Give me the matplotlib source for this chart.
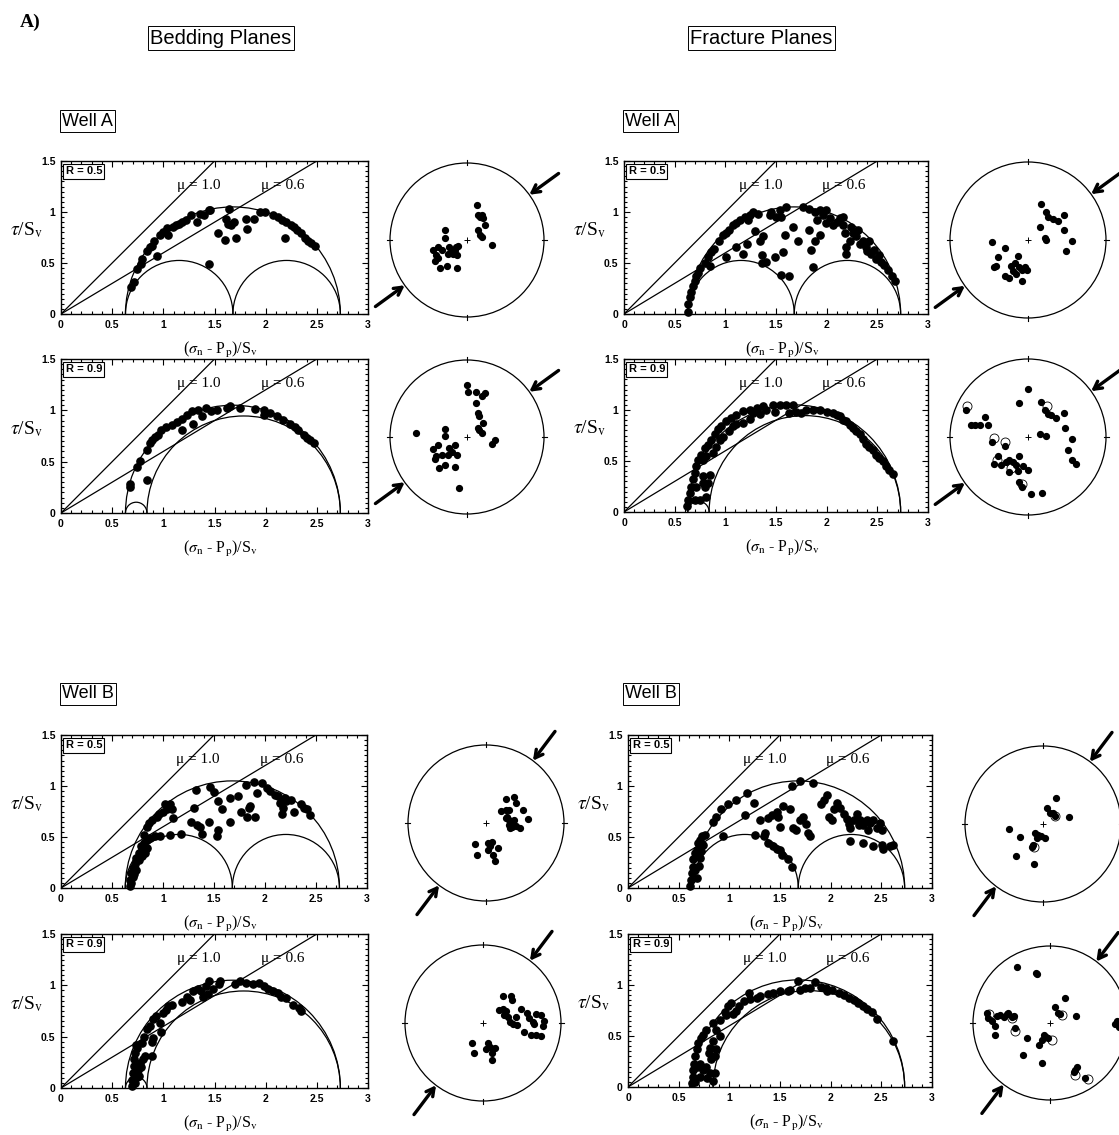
import numpy as np
import matplotlib
matplotlib.use('Agg')
import matplotlib.pyplot as plt
from matplotlib.patches import Arc, Circle

plt.rcParams['mathtext.fontset'] = 'stix'
plt.rcParams['font.family'] = ['Liberation Sans', 'DejaVu Sans']

# ---------------- data ----------------
SIGMA3 = 0.63
SIGMA1 = 2.73
MU_VALUES = [1.0, 0.6]
R_VALUES = [0.5, 0.9]
X_TICKS = [0, 0.5, 1, 1.5, 2, 2.5, 3]
X_TICKLABELS = ['0', '0.5', '1', '1.5', '2', '2.5', '3']
Y_TICKS = [0, 0.5, 1, 1.5]
Y_TICKLABELS = ['0', '0.5', '1', '1.5']
SHMAX_AZ_WELL_A = 54
SHMAX_AZ_WELL_B = 37

# Mohr-diagram points (sigma_n', tau)
A_BED_R05 = [(0.68,0.26),(0.71,0.31),(0.74,0.44),(0.78,0.49),(0.79,0.54),(0.84,0.62),(0.87,0.66),
             (0.89,0.67),(0.91,0.72),(0.94,0.57),(0.97,0.77),(1.0,0.80),(1.04,0.84),(1.05,0.77),
             (1.09,0.85),(1.12,0.87),(1.15,0.88),(1.18,0.90),(1.22,0.92),(1.27,0.97),(1.33,0.90),
             (1.36,0.98),(1.40,0.97),(1.45,1.02),(1.46,1.02),(1.45,0.49),(1.64,1.03),(1.53,0.79),
             (1.61,0.93),(1.63,0.88),(1.66,0.87),(1.69,0.90),(1.60,0.73),(1.71,0.75),(1.81,0.93),
             (1.82,0.83),(1.89,0.93),(1.94,1.00),(1.99,1.00),(2.07,0.97),(2.12,0.95),(2.16,0.92),
             (2.20,0.90),(2.19,0.75),(2.25,0.87),(2.28,0.85),(2.31,0.82),(2.35,0.79),(2.38,0.75),
             (2.41,0.72),(2.44,0.70),(2.48,0.67)]
A_BED_R09 = [(0.67,0.25),(0.67,0.28),(0.74,0.45),(0.77,0.51),(0.84,0.61),(0.87,0.68),(0.89,0.71),
             (0.92,0.74),(0.95,0.76),(0.84,0.32),(0.98,0.81),(1.03,0.84),(1.08,0.86),(1.13,0.89),
             (1.18,0.92),(1.18,0.81),(1.23,0.95),(1.28,0.99),(1.29,0.87),(1.34,1.00),(1.38,0.94),
             (1.42,1.02),(1.47,0.99),(1.52,1.00),(1.62,1.02),(1.65,1.04),(1.75,1.02),(1.90,1.01),
             (1.98,1.00),(1.98,0.95),(2.04,0.97),(2.11,0.94),(2.17,0.91),(2.24,0.87),(2.29,0.84),
             (2.32,0.81),(2.37,0.76),(2.40,0.73),(2.43,0.71),(2.47,0.68)]
A_FRAC_R05 = [(0.63,0.02),(0.63,0.10),(0.65,0.17),(0.66,0.22),(0.68,0.27),(0.70,0.32),(0.71,0.37),
              (0.73,0.40),(0.75,0.45),(0.80,0.50),(0.83,0.56),(0.86,0.61),(0.89,0.64),(0.85,0.47),
              (0.94,0.72),(0.98,0.77),(1.01,0.79),(1.01,0.56),(1.04,0.82),(1.08,0.87),(1.11,0.89),
              (1.14,0.92),(1.11,0.66),(1.17,0.59),(1.19,0.95),(1.22,0.92),(1.24,0.97),(1.27,1.00),
              (1.32,0.98),(1.29,0.81),(1.21,0.69),(1.34,0.72),(1.37,0.76),(1.36,0.58),(1.40,0.51),
              (1.36,0.50),(1.45,1.00),(1.44,0.97),(1.50,0.95),(1.49,0.56),(1.54,1.02),(1.55,0.95),
              (1.57,0.61),(1.59,0.77),(1.60,1.05),(1.67,0.85),(1.55,0.38),(1.63,0.37),(1.72,0.72),
              (1.77,1.05),(1.83,1.03),(1.83,0.82),(1.85,0.63),(1.87,0.46),(1.88,1.00),(1.90,0.92),
              (1.93,1.02),(1.93,0.77),(1.96,0.97),(1.99,0.89),(1.99,1.02),(2.03,0.94),(2.06,0.87),
              (1.88,0.72),(2.13,0.94),(2.16,0.87),(2.18,0.79),(2.19,0.66),(2.19,0.59),(2.23,0.72),
              (2.26,0.79),(2.29,0.76),(2.31,0.82),(2.33,0.69),(2.36,0.72),(2.39,0.66),(2.42,0.72),
              (2.44,0.59),(2.47,0.63),(2.49,0.54),(2.52,0.58),(2.54,0.51),(2.57,0.48),(2.61,0.43),
              (2.64,0.37),(2.67,0.32),(2.16,0.95),(2.10,0.90),(2.24,0.85),(2.40,0.62)]
A_FRAC_R09 = [(0.62,0.06),(0.63,0.12),(0.65,0.19),(0.66,0.25),(0.68,0.32),(0.70,0.38),(0.71,0.45),
              (0.73,0.51),(0.76,0.56),(0.80,0.63),(0.83,0.66),(0.86,0.71),(0.90,0.76),(0.93,0.81),
              (0.96,0.84),(1.01,0.89),(1.06,0.92),(1.11,0.95),(1.17,0.99),(1.24,1.00),(1.31,1.02),
              (1.37,1.04),(1.47,1.05),(1.54,1.05),(1.60,1.05),(1.67,1.05),
              (0.70,0.12),(0.71,0.25),(0.78,0.28),(0.83,0.28),(0.85,0.36),(0.78,0.51),(0.81,0.55),
              (0.88,0.58),(0.91,0.64),(0.95,0.71),(0.98,0.74),(1.04,0.79),(1.08,0.84),(1.11,0.86),
              (1.17,0.87),(1.24,0.91),(1.27,0.97),(1.34,0.96),(1.40,1.00),(1.49,0.98),(1.63,0.97),
              (1.70,0.98),(1.75,0.97),(1.80,1.00),(0.78,0.35),(0.80,0.25),(0.81,0.15),(0.75,0.12),
              (1.87,1.00),(1.93,1.00),(2.00,0.98),(2.06,0.97),(2.10,0.95),(2.13,0.94),(2.16,0.90),
              (2.19,0.89),(2.23,0.85),(2.26,0.82),(2.29,0.79),(2.33,0.76),(2.36,0.72),(2.39,0.67),
              (2.42,0.64),(2.46,0.61),(2.49,0.56),(2.52,0.53),(2.56,0.50),(2.59,0.45),(2.62,0.41),
              (2.65,0.37)]
B_BED_R05 = [(0.68,0.02),(0.68,0.08),(0.69,0.15),(0.71,0.20),(0.73,0.24),(0.74,0.29),(0.76,0.34),
             (0.79,0.37),(0.78,0.41),(0.81,0.44),(0.84,0.47),(0.87,0.49),(0.92,0.51),(0.97,0.51),
             (1.07,0.52),(1.18,0.53),(0.81,0.52),(0.84,0.60),(0.86,0.64),(0.89,0.67),(0.94,0.70),
             (0.96,0.73),(1.00,0.75),(1.04,0.77),(1.02,0.82),(1.07,0.82),(1.05,0.78),(1.09,0.77),
             (1.10,0.69),(0.71,0.11),(0.74,0.18),(0.69,0.05),(0.82,0.34),(0.84,0.39),(0.76,0.27),
             (0.72,0.14),(0.79,0.31),
             (1.32,0.96),(1.46,0.99),(1.50,0.94),(1.54,0.85),(1.58,0.77),(1.66,0.88),(1.74,0.90),
             (1.76,0.75),(1.84,0.78),(1.85,0.80),(1.82,0.70),(1.90,0.70),(1.92,0.93),(1.97,1.03),
             (2.02,0.98),(2.05,0.95),(2.10,0.91),(2.13,0.90),(2.15,0.83),(2.17,0.86),(2.18,0.78),
             (2.20,0.88),(2.21,0.85),(2.17,0.73),(2.25,0.86),(2.28,0.75),(2.35,0.82),(2.38,0.78),
             (2.41,0.77),(2.44,0.72),(1.81,1.01),(1.89,1.04),(1.30,0.78),(1.27,0.65),(1.36,0.60),
             (1.33,0.62),(1.45,0.65),(1.54,0.57),(1.53,0.51),(1.38,0.53),(1.66,0.65)]
B_BED_R09 = [(0.69,0.02),(0.69,0.08),(0.70,0.15),(0.71,0.21),(0.71,0.28),(0.72,0.34),(0.74,0.39),
             (0.75,0.18),(0.77,0.24),(0.74,0.11),(0.79,0.44),(0.81,0.50),(0.84,0.57),(0.82,0.31),
             (0.89,0.45),(0.90,0.49),(0.87,0.60),(0.90,0.67),(0.93,0.70),(0.97,0.63),(0.98,0.55),
             (1.00,0.73),(1.03,0.76),(1.05,0.80),(1.08,0.81),(1.18,0.84),(1.23,0.89),(1.26,0.86),
             (1.29,0.94),(1.34,0.96),(1.37,0.94),(1.39,0.89),(1.42,0.99),(1.44,0.92),(1.49,0.96),
             (1.54,1.01),(1.55,1.04),(1.45,1.04),(1.70,1.01),(1.75,1.04),(1.81,1.02),(1.88,1.01),
             (1.93,1.02),(1.98,0.99),(2.02,0.96),(2.07,0.94),(2.12,0.93),(2.15,0.89),(2.20,0.88),
             (2.27,0.81),(2.33,0.78),(2.35,0.75),(0.89,0.31),(0.72,0.05),(0.76,0.12),(0.73,0.42),
             (0.78,0.20),(0.80,0.28)]
B_FRAC_R05 = [(0.61,0.02),(0.62,0.08),(0.63,0.15),(0.64,0.21),(0.64,0.28),(0.66,0.34),(0.68,0.37),
              (0.69,0.44),(0.71,0.47),(0.73,0.51),(0.76,0.52),(0.74,0.42),(0.71,0.29),(0.66,0.18),
              (0.68,0.10),(0.70,0.22),(0.72,0.36),
              (0.84,0.65),(0.87,0.70),(0.92,0.77),(0.99,0.82),(1.07,0.86),(1.17,0.93),(0.94,0.51),
              (1.15,0.72),(1.24,0.83),(1.25,0.52),(1.30,0.67),(1.34,0.51),(1.35,0.54),(1.38,0.44),
              (1.43,0.41),(1.47,0.38),(1.50,0.37),(1.52,0.32),(1.58,0.28),(1.62,0.21),(1.38,0.69),
              (1.42,0.72),(1.47,0.75),(1.48,0.70),(1.50,0.60),(1.53,0.80),(1.60,0.77),(1.63,0.59),
              (1.66,0.57),(1.70,0.67),(1.73,0.70),(1.76,0.63),(1.78,0.54),(1.80,0.51),(1.62,1.00),
              (1.70,1.05),(1.83,1.03),(1.90,0.82),(1.93,0.86),(1.96,0.91),(1.98,0.70),(2.01,0.67),
              (2.03,0.77),(2.06,0.83),(2.09,0.78),(2.13,0.73),(2.16,0.68),(2.18,0.63),(2.19,0.59),
              (2.23,0.67),(2.26,0.73),(2.28,0.62),(2.29,0.67),(2.32,0.62),(2.36,0.67),(2.37,0.57),
              (2.39,0.64),(2.42,0.67),(2.46,0.59),(2.49,0.64),(2.51,0.57),(2.19,0.46),(2.32,0.44),
              (2.42,0.41),(2.51,0.42),(2.52,0.38),(2.59,0.41),(2.62,0.42)]
B_FRAC_R09 = [(0.63,0.04),(0.64,0.10),(0.64,0.17),(0.65,0.23),(0.66,0.30),(0.68,0.37),(0.69,0.43),
              (0.72,0.48),(0.74,0.51),(0.77,0.56),(0.71,0.10),(0.74,0.17),(0.71,0.23),(0.77,0.20),
              (0.81,0.14),(0.84,0.06),(0.86,0.14),(0.82,0.27),(0.86,0.30),(0.87,0.37),(0.81,0.38),
              (0.84,0.45),(0.91,0.50),(0.87,0.56),(0.84,0.63),(0.91,0.66),(0.96,0.74),(0.99,0.79),
              (1.02,0.82),(0.97,0.71),(1.04,0.72),(1.07,0.75),(1.10,0.79),(1.14,0.84),(1.19,0.92),
              (1.20,0.86),(1.27,0.87),(1.30,0.89),(1.38,0.91),(1.43,0.92),(1.50,0.94),(1.58,0.94),
              (1.60,0.95),(1.68,1.04),(1.70,0.95),(1.75,0.97),(1.80,0.97),(1.85,1.03),(1.90,0.98),
              (1.95,0.97),(1.96,0.94),(2.01,0.95),(2.08,0.92),(2.13,0.90),(2.18,0.87),(2.23,0.85),
              (2.27,0.82),(2.32,0.79),(2.36,0.76),(2.41,0.74),(2.46,0.67),(2.62,0.45),(0.66,0.05),
              (0.68,0.20),(0.78,0.09),(0.80,0.33)]

# Stereonet poles (normalised to the primitive circle)
A_BED_R05_POLES = [(0.13,0.46),(0.14,0.32),(0.17,0.30),(0.19,0.33),(0.21,0.28),(0.23,0.19),(0.14,0.13),
                   (0.17,0.06),(0.19,0.04),(0.33,-0.06),(-0.29,0.13),(-0.28,0.03),(-0.44,-0.13),
                   (-0.38,-0.09),(-0.33,-0.13),(-0.40,-0.20),(-0.42,-0.27),(-0.38,-0.24),(-0.35,-0.36),
                   (-0.26,-0.34),(-0.13,-0.36),(-0.23,-0.09),(-0.20,-0.13),(-0.25,-0.18),(-0.18,-0.18),
                   (-0.14,-0.09),(-0.13,-0.20),(-0.15,-0.13),(-0.12,-0.08)]
A_BED_R09_POLES = [(0.00,0.68),(0.01,0.59),(0.12,0.59),(0.23,0.57),(0.20,0.53),(0.12,0.44),(0.14,0.31),
                   (0.16,0.27),(0.21,0.18),(0.16,0.09),(0.19,0.05),(0.14,0.12),(0.33,-0.09),(0.37,-0.04),
                   (-0.66,0.05),(-0.29,0.10),(-0.29,0.01),(-0.44,-0.16),(-0.38,-0.11),(-0.33,-0.23),
                   (-0.42,-0.29),(-0.40,-0.25),(-0.36,-0.40),(-0.28,-0.37),(-0.15,-0.39),(-0.23,-0.14),
                   (-0.20,-0.19),(-0.25,-0.23),(-0.16,-0.10),(-0.13,-0.23),(-0.10,-0.66)]
A_FRAC_R05_POLES = [(0.17,0.46),(0.23,0.36),(0.25,0.30),(0.32,0.27),(0.38,0.25),(0.46,0.32),(0.15,0.17),
                    (0.46,0.13),(0.22,0.02),(0.23,0.00),(0.56,-0.01),(0.49,-0.14),(-0.46,-0.03),
                    (-0.30,-0.10),(-0.39,-0.22),(-0.43,-0.34),(-0.41,-0.33),(-0.30,-0.46),(-0.24,-0.49),
                    (-0.22,-0.33),(-0.17,-0.30),(-0.13,-0.21),(-0.12,-0.34),(-0.08,-0.38),(-0.04,-0.34),
                    (-0.01,-0.38),(-0.08,-0.53),(-0.19,-0.40),(-0.15,-0.44)]
A_FRAC_R09_POLES = [(0.00,0.62),(-0.11,0.44),(0.17,0.45),(0.22,0.34),(0.25,0.30),(0.30,0.28),(0.36,0.25),
                    (0.46,0.31),(0.47,0.12),(0.15,0.04),(0.23,0.01),(0.57,-0.03),(0.51,-0.17),(0.57,-0.30),
                    (0.62,-0.34),(-0.80,0.35),(-0.73,0.15),(-0.68,0.15),(-0.62,0.16),(-0.55,0.26),
                    (-0.51,0.16),(-0.46,-0.06),(-0.30,-0.11),(-0.38,-0.24),(-0.43,-0.34),(-0.35,-0.36),
                    (-0.28,-0.32),(-0.24,-0.30),(-0.19,-0.32),(-0.15,-0.36),(-0.11,-0.24),(-0.13,-0.43),
                    (-0.06,-0.37),(0.00,-0.42),(-0.24,-0.45),(-0.11,-0.58),(-0.08,-0.64),(0.04,-0.73),
                    (0.18,-0.72)]
A_FRAC_R09_OPEN = [(-0.78,0.40),(-0.44,-0.01),(-0.30,-0.07),(-0.40,-0.30),(-0.08,-0.60),(0.24,0.40),
                   (-0.22,-0.40)]
B_BED_R05_POLES = [(0.26,0.31),(0.36,0.33),(0.39,0.26),(0.19,0.16),(0.25,0.17),(0.29,0.17),(0.48,0.17),
                   (0.54,0.05),(0.27,0.08),(0.29,0.04),(0.31,0.00),(0.36,0.04),(0.33,-0.05),(0.38,-0.04),
                   (0.44,-0.07),(0.31,-0.07),(0.26,0.06),(0.34,0.02),(0.30,-0.03),(-0.14,-0.27),
                   (-0.12,-0.41),(0.03,-0.25),(0.08,-0.24),(0.05,-0.30),(0.15,-0.32),(0.09,-0.41),
                   (0.12,-0.49),(0.02,-0.34)]
B_BED_R09_POLES = [(0.26,0.34),(0.36,0.35),(0.37,0.29),(0.20,0.17),(0.25,0.18),(0.29,0.16),(0.27,0.10),
                   (0.32,0.08),(0.34,0.01),(0.38,-0.01),(0.44,-0.03),(0.42,0.08),(0.49,0.18),(0.57,0.13),
                   (0.59,0.06),(0.64,0.01),(0.68,0.12),(0.74,0.10),(0.78,0.03),(0.77,-0.04),(0.53,-0.12),
                   (0.62,-0.15),(0.68,-0.16),(0.74,-0.17),(0.66,-0.01),(-0.14,-0.26),(-0.12,-0.39),
                   (0.07,-0.26),(0.09,-0.31),(0.04,-0.33),(0.15,-0.32),(0.11,-0.39),(0.12,-0.48)]
B_FRAC_R05_POLES = [(0.17,0.33),(0.05,0.21),(0.09,0.14),(0.13,0.14),(0.16,0.10),(0.33,0.09),(-0.44,-0.07),
                    (-0.30,-0.17),(-0.10,-0.12),(-0.07,-0.14),(-0.03,-0.16),(0.02,-0.18),(-0.08,-0.18),
                    (-0.13,-0.27),(-0.14,-0.29),(-0.34,-0.41),(-0.11,-0.51)]
B_FRAC_R05_OPEN = [(0.16,0.10),(-0.12,-0.30)]
B_FRAC_R09_POLES = [(-0.43,0.73),(-0.18,0.65),(-0.17,0.63),(0.19,0.33),(0.06,0.21),(0.10,0.13),(0.13,0.12),
                    (0.34,0.09),(-0.82,0.13),(-0.80,0.06),(-0.75,0.02),(-0.72,-0.04),(-0.69,0.09),
                    (-0.65,0.10),(-0.60,0.08),(-0.56,0.12),(-0.54,0.13),(-0.49,0.08),(-0.47,0.09),
                    (-0.71,-0.16),(-0.46,-0.06),(-0.30,-0.20),(-0.08,-0.16),(-0.05,-0.18),(-0.03,-0.19),
                    (-0.10,-0.22),(-0.14,-0.29),(-0.35,-0.42),(-0.11,-0.52),(0.35,-0.57),(0.33,-0.61),
                    (0.31,-0.63),(0.45,-0.72),(0.87,0.02),(0.89,-0.05),(0.85,-0.01)]
B_FRAC_R09_OPEN = [(-0.79,0.12),(-0.46,-0.11),(0.16,0.10),(0.02,-0.22),(0.33,-0.68),(0.49,-0.73),
                   (-0.49,0.07)]

# ---------------- drawing ----------------
W, H = 1119, 1135
fig = plt.figure(figsize=(W / 100, H / 100), dpi=100)
fig.patch.set_facecolor('white')

XLABEL = r'($\sigma_\mathrm{n}$ - P$_\mathrm{p}$)/S$_\mathrm{v}$'
YLABEL = r'$\tau$/S$_\mathrm{v}$'
SERIF = ['Liberation Serif', 'DejaVu Serif']


def rect_px(x0, y0, x1, y1):
    return [x0 / W, 1 - y1 / H, (x1 - x0) / W, (y1 - y0) / H]


def mohr_panel(box, R, pts):
    ax = fig.add_axes(rect_px(*box))
    ax.set_xlim(0, 3)
    ax.set_ylim(0, 1.5)
    s3, s1 = SIGMA3, SIGMA1
    s2 = s1 - R * (s1 - s3)
    for a, b in [(s3, s1), (s3, s2), (s2, s1)]:
        ax.add_patch(Arc(((a + b) / 2, 0), b - a, b - a, theta1=0, theta2=180,
                         lw=0.9, color='k'))
    for mu in MU_VALUES:
        ax.plot([0, 1.5 / mu], [0, 1.5], color='k', lw=0.9)
    sn = [p[0] for p in pts]
    tau = [p[1] for p in pts]
    ax.plot(sn, tau, 'o', ms=5.2, color='k', mec='k', clip_on=False)
    ax.set_xticks(X_TICKS)
    ax.set_xticklabels(X_TICKLABELS)
    ax.set_yticks(Y_TICKS)
    ax.set_yticklabels(Y_TICKLABELS)
    ax.set_xticks(np.arange(0, 3.01, 0.1), minor=True)
    ax.set_yticks(np.arange(0, 1.51, 0.05), minor=True)
    ax.tick_params(which='both', direction='in', top=True, right=True, width=0.8,
                   labelsize=7.5, pad=4)
    ax.tick_params(which='major', length=4)
    ax.tick_params(which='minor', length=2)
    for lab in ax.get_xticklabels() + ax.get_yticklabels():
        lab.set_fontweight('bold')
    for sp in ax.spines.values():
        sp.set_linewidth(1.0)
    ax.text(0.015, 0.965, 'R = %.1f' % R, transform=ax.transAxes, ha='left', va='top',
            fontsize=8, fontweight='bold',
            bbox=dict(boxstyle='square,pad=0.2', fc='white', ec='k', lw=0.8))
    ax.text(1.13, 1.26, 'μ = 1.0', family=SERIF, fontsize=11, va='center')
    ax.text(1.95, 1.26, 'μ = 0.6', family=SERIF, fontsize=11, va='center')
    ax.text(-0.06, 0.82, YLABEL, transform=ax.get_yaxis_transform(), ha='right',
            va='center', fontsize=14, family=SERIF)
    ax.text(0.52, -0.235, XLABEL, transform=ax.transAxes,
            ha='center', va='center', fontsize=11.5, family=SERIF)
    return ax


def stereonet(cx, cy, r, poles, open_poles, az):
    ax = fig.add_axes(rect_px(cx - r, cy - r, cx + r, cy + r))
    ax.set_xlim(-1, 1)
    ax.set_ylim(-1, 1)
    ax.axis('off')
    ax.add_patch(Circle((0, 0), 1, fill=False, lw=0.9, color='k', clip_on=False))
    ax.plot([0], [0], '+', ms=4, mew=0.7, color='k')
    for ang in [0, 90, 180, 270]:
        c, s = np.cos(np.radians(ang)), np.sin(np.radians(ang))
        ax.plot([0.97 * c, 1.04 * c], [0.97 * s, 1.04 * s], color='k', lw=0.8, clip_on=False)
    px = [p[0] for p in poles]
    py = [p[1] for p in poles]
    ax.plot(px, py, 'o', ms=4.2, color='k', clip_on=False)
    if open_poles:
        ox = [p[0] for p in open_poles]
        oy = [p[1] for p in open_poles]
        ax.plot(ox, oy, 'o', ms=6.5, mfc='none', mec='k', mew=0.6, clip_on=False)
    th = np.radians(90 - az)
    for sgn in (1, -1):
        head = (sgn * 1.0 * np.cos(th), sgn * 1.0 * np.sin(th))
        tail = (sgn * 1.47 * np.cos(th), sgn * 1.47 * np.sin(th))
        ax.annotate('', xy=head, xytext=tail, annotation_clip=False,
                    arrowprops=dict(arrowstyle='->,head_length=0.55,head_width=0.3',
                                    lw=2.4, color='k', shrinkA=0, shrinkB=0))
    return ax


# Well A
mohr_panel((61, 161, 368, 314), R_VALUES[0], A_BED_R05)
mohr_panel((61, 359, 368, 513), R_VALUES[1], A_BED_R09)
mohr_panel((624, 161, 928, 314), R_VALUES[0], A_FRAC_R05)
mohr_panel((624, 359, 928, 512), R_VALUES[1], A_FRAC_R09)
# Well B
mohr_panel((61, 735, 367, 888), R_VALUES[0], B_BED_R05)
mohr_panel((61, 934, 368, 1088), R_VALUES[1], B_BED_R09)
mohr_panel((628, 735, 932, 888), R_VALUES[0], B_FRAC_R05)
mohr_panel((628, 934, 932, 1087), R_VALUES[1], B_FRAC_R09)

stereonet(467, 240, 77, A_BED_R05_POLES, None, SHMAX_AZ_WELL_A)
stereonet(467, 437, 77, A_BED_R09_POLES, None, SHMAX_AZ_WELL_A)
stereonet(1028, 240, 78, A_FRAC_R05_POLES, None, SHMAX_AZ_WELL_A)
stereonet(1028, 437, 78, A_FRAC_R09_POLES, A_FRAC_R09_OPEN, SHMAX_AZ_WELL_A)
stereonet(486, 823, 78, B_BED_R05_POLES, None, SHMAX_AZ_WELL_B)
stereonet(483, 1023, 78, B_BED_R09_POLES, None, SHMAX_AZ_WELL_B)
stereonet(1043, 824, 78, B_FRAC_R05_POLES, B_FRAC_R05_OPEN, SHMAX_AZ_WELL_B)
stereonet(1050, 1023, 77, B_FRAC_R09_POLES, B_FRAC_R09_OPEN, SHMAX_AZ_WELL_B)


def ftext(x, y, s, **kw):
    fig.text(x / W, 1 - y / H, s, **kw)


box = dict(boxstyle='square,pad=0.12', fc='white', ec='k', lw=0.7)
ftext(20, 22, 'A)', family=SERIF, fontweight='bold', fontsize=14, va='center')
ftext(150, 38, 'Bedding Planes', fontsize=14.5, va='center', bbox=box)
ftext(690, 38, 'Fracture Planes', fontsize=14.5, va='center', bbox=box)
ftext(62, 121, 'Well A', fontsize=13, va='center', bbox=box)
ftext(625, 121, 'Well A', fontsize=13, va='center', bbox=box)
ftext(62, 694, 'Well B', fontsize=13, va='center', bbox=box)
ftext(625, 694, 'Well B', fontsize=13, va='center', bbox=box)

fig.savefig('out.png', dpi=100, facecolor='white')
